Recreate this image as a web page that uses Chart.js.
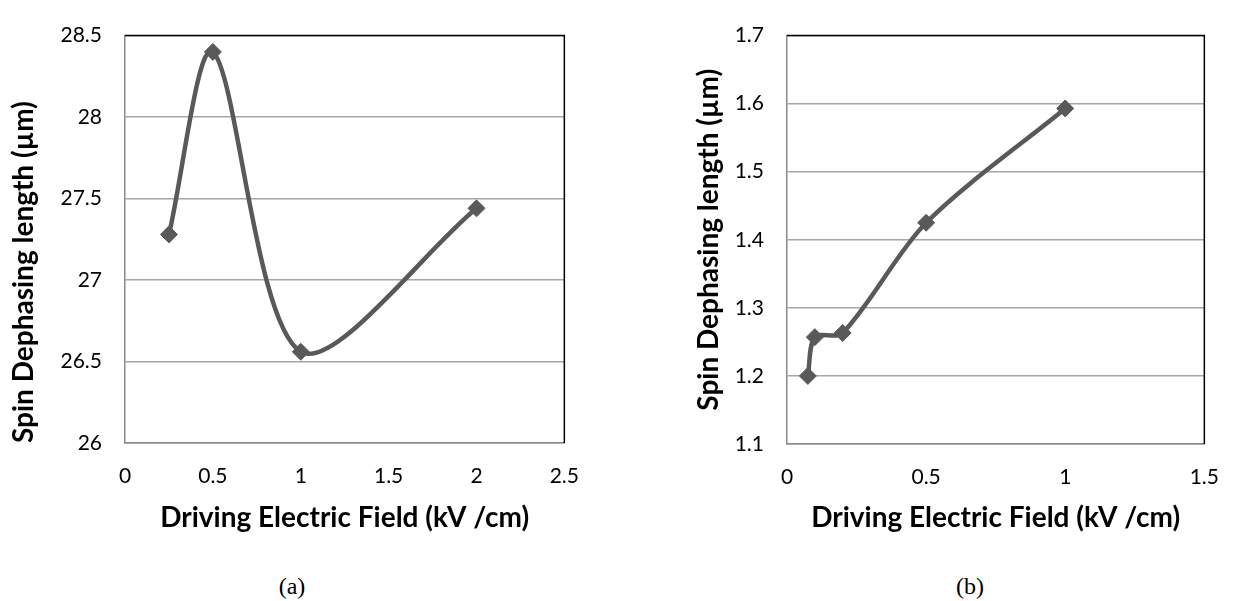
<!DOCTYPE html>
<html>
<head>
<meta charset="utf-8">
<script src="https://cdn.jsdelivr.net/npm/chart.js@4.4.1/dist/chart.umd.min.js"></script>
<style>
    body { margin: 0; width: 1240px; height: 601px; background: #fff; position: relative; overflow: hidden; }
    .panel { position: absolute; top: 0; height: 540px; }
    #panelA { left: 0; width: 600px; }
    #panelB { left: 620px; width: 620px; }
    .caption { position: absolute; top: 573px; font-family: "Liberation Serif", serif; font-size: 24px; color: #000; transform: translateX(-50%); }
</style>
</head>
<body>
<div class="panel" id="panelA"><canvas id="chartA"></canvas></div>
<div class="panel" id="panelB"><canvas id="chartB"></canvas></div>
<div class="caption" style="left:292px">(a)</div>
<div class="caption" style="left:970px">(b)</div>
<script>
// Spin dephasing length vs driving electric field
const fieldA = [0.25, 0.5, 1, 2];
const lengthA = [27.28, 28.4, 26.56, 27.44];
const fieldB = [0.075, 0.1, 0.2, 0.5, 1];
const lengthB = [1.2, 1.257, 1.263, 1.425, 1.593];

// Axis ranges / tick steps: [min, max, step]
const xTicksA = [0, 2.5, 0.5];
const yTicksA = [26, 28.5, 0.5];
const xTicksB = [0, 1.5, 0.5];
const yTicksB = [1.1, 1.7, 0.1];

const xTitle = 'Driving Electric Field (kV /cm)';
const yTitle = 'Spin Dephasing length (\u00b5m)';

const lineColor = '#595959';
const font = 'Lato';

// plain number labels: 26, 26.5, 1.7 ...
const fmt = v => String(+v.toFixed(2));

// black frame along top and right of the plot area
const framePlugin = {
    id: 'frame',
    beforeDatasetsDraw(chart) {
        const { ctx, chartArea: a } = chart;
        ctx.save();
        ctx.strokeStyle = '#000';
        ctx.lineWidth = 1.5;
        ctx.beginPath();
        ctx.moveTo(a.left, a.top);
        ctx.lineTo(a.right, a.top);
        ctx.lineTo(a.right, a.bottom);
        ctx.stroke();
        ctx.restore();
    }
};

function makeChart(id, xs, ys, xr, yr, pad, yWidth, xHeight, yTitleAlign) {
    const points = xs.map((x, i) => ({ x: x, y: ys[i] }));
    return new Chart(document.getElementById(id), {
        type: 'scatter',
        data: {
            datasets: [{
                data: points,
                showLine: true,
                tension: 0.3,
                borderColor: lineColor,
                borderWidth: 4.5,
                backgroundColor: lineColor,
                pointStyle: 'rectRot',
                pointRadius: 8.5,
                pointBorderWidth: 1,
                pointBorderColor: lineColor,
                pointBackgroundColor: lineColor
            }]
        },
        options: {
            responsive: true,
            maintainAspectRatio: false,
            animation: false,
            layout: { padding: pad },
            plugins: { legend: { display: false }, tooltip: { enabled: false } },
            scales: {
                x: {
                    type: 'linear',
                    min: xr[0], max: xr[1],
                    afterFit: s => { s.height = xHeight; },
                    ticks: { stepSize: xr[2], padding: 21, color: '#000', callback: fmt, font: { family: font, size: 21 } },
                    grid: { display: false, drawTicks: false },
                    border: { color: '#888', width: 1.5 },
                    title: { display: true, text: xTitle, color: '#000', padding: { bottom: 5 }, font: { family: font, size: 28, weight: 'bold' } }
                },
                y: {
                    min: yr[0], max: yr[1],
                    afterFit: s => { s.width = yWidth; },
                    ticks: { stepSize: yr[2], padding: 23, color: '#000', callback: fmt, font: { family: font, size: 21 } },
                    grid: { color: '#a6a6a6', lineWidth: 1.5, drawTicks: false },
                    border: { color: '#888', width: 1.5 },
                    title: { display: true, text: yTitle, align: yTitleAlign, color: '#000', padding: { top: 7 }, font: { family: font, size: 28, weight: 'bold' } }
                }
            }
        },
        plugins: [framePlugin]
    });
}

makeChart('chartA', fieldA, lengthA, xTicksA, yTicksA, { left: 0, top: 21, right: 34, bottom: 0 }, 125, 97, 'start');
makeChart('chartB', fieldB, lengthB, xTicksB, yTicksB, { left: 65, top: 31, right: 23, bottom: 0 }, 102, 96, 'center');
</script>
</body>
</html>
